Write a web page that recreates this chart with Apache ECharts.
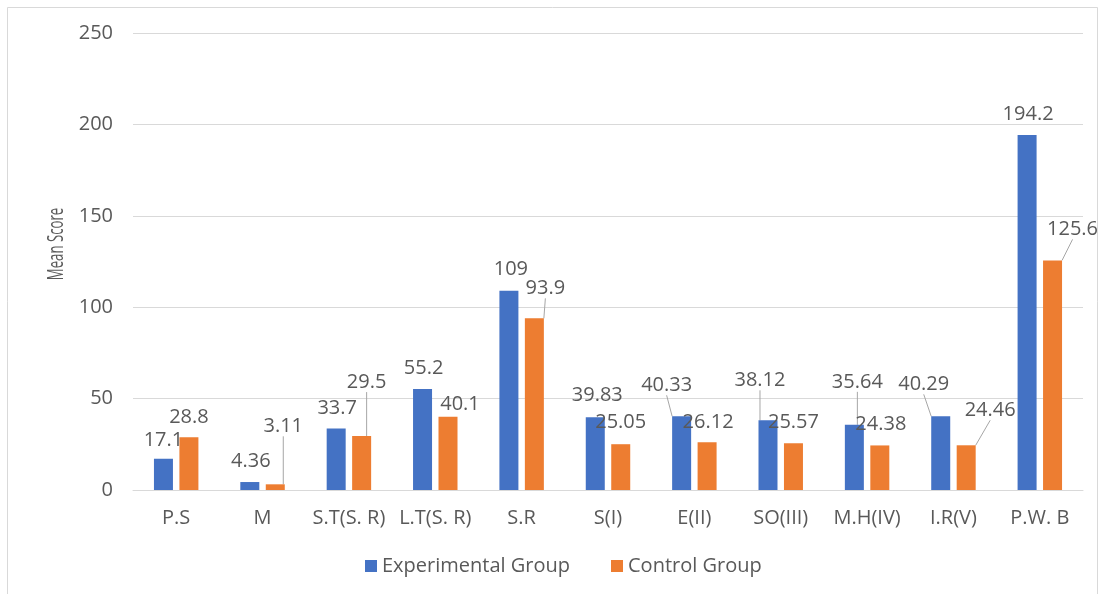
<!DOCTYPE html>
<html>
<head>
<meta charset="utf-8">
<script src="https://cdn.jsdelivr.net/npm/echarts@6/dist/echarts.min.js"></script>
<style>
  html, body { margin: 0; padding: 0; background: #ffffff; }
  #chart { width: 1106px; height: 594px; }
</style>
</head>
<body>
<div id="chart"></div>
<script>
// Sub-scale names along the x axis
const categories = ['P.S', 'M', 'S.T(S. R)', 'L.T(S. R)', 'S.R', 'S(I)', 'E(II)', 'SO(III)', 'M.H(IV)', 'I.R(V)', 'P.W. B'];

// Mean scores per group
const experimental = [17.1, 4.36, 33.7, 55.2, 109, 39.83, 40.33, 38.12, 35.64, 40.29, 194.2];
const control = [28.8, 3.11, 29.5, 40.1, 93.9, 25.05, 26.12, 25.57, 24.38, 24.46, 125.6];

// Value axis range and step
const yMin = 0;
const yMax = 250;
const yStep = 50;

const seriesNames = ['Experimental Group', 'Control Group'];

// Nudges for the value labels (pixels, relative to the default "top" spot)
const expLabelShift = [[0, -3], [1, -6], [1, -5], [1, -6], [2, -6], [2, -7], [-15, -16], [-8, -25], [3, -28], [-17, -17], [1, -6]];
const ctlLabelShift = [[0, -5], [8, -43], [5, -39], [12, 3], [11, -15], [0, -7], [1, -5], [0, -6], [1, -6], [24, -20], [20, -16]];

// Which labels get a leader line back to their bar
const expLeader = [false, false, false, false, false, false, true, true, true, true, false];
const ctlLeader = [false, true, true, false, true, false, false, false, false, true, true];

const FONT = '"Open Sans", "Liberation Sans", sans-serif';
const TEXT = '#595959';

function items(values, leaders) {
  return values.map((v, i) => ({ value: v, labelLine: { show: leaders[i] } }));
}

function barSeries(name, values, color, shift, leaders) {
  return {
    name: name,
    type: 'bar',
    barWidth: 19,
    barGap: '34%',
    itemStyle: { color: color },
    data: items(values, leaders),
    label: {
      show: true,
      position: 'top',
      distance: 5,
      color: TEXT,
      fontFamily: FONT,
      fontSize: 20
    },
    labelLine: {
      show: true,
      lineStyle: { color: '#a6a6a6', width: 1 }
    },
    labelLayout: function (p) {
      const s = shift[p.dataIndex];
      return { dx: s[0], dy: s[1] };
    }
  };
}

const chart = echarts.init(document.getElementById('chart'), null, { renderer: 'canvas' });

chart.setOption({
  backgroundColor: '#ffffff',
  animation: false,
  textStyle: { fontFamily: FONT },
  graphic: [
    {
      type: 'rect',
      silent: true,
      shape: { x: 7.5, y: 7.5, width: 1090, height: 620 },
      style: { fill: 'none', stroke: '#d9d9d9', lineWidth: 1 }
    },
    {
      // Value-axis title, set upright along the axis
      type: 'text',
      silent: true,
      x: 57,
      y: 244,
      rotation: Math.PI / 2,
      scaleX: 0.6,
      style: {
        text: 'Mean Score',
        fill: TEXT,
        font: '22px ' + FONT,
        textAlign: 'center',
        textVerticalAlign: 'middle'
      }
    }
  ],
  grid: { left: 133, right: 23, top: 33, bottom: 104, containLabel: false },
  legend: {
    data: seriesNames,
    left: 360,
    top: 551,
    icon: 'rect',
    itemWidth: 12,
    itemHeight: 12,
    itemGap: 41,
    textStyle: { color: TEXT, fontFamily: FONT, fontSize: 20 }
  },
  xAxis: {
    type: 'category',
    data: categories,
    axisTick: { show: false },
    axisLine: { lineStyle: { color: '#d9d9d9', width: 1 } },
    axisLabel: { color: TEXT, fontFamily: FONT, fontSize: 20, margin: 18, interval: 0 }
  },
  yAxis: {
    type: 'value',
    min: yMin,
    max: yMax,
    interval: yStep,
    axisLine: { show: false },
    axisTick: { show: false },
    splitLine: { lineStyle: { color: '#d9d9d9', width: 1 } },
    axisLabel: { color: TEXT, fontFamily: FONT, fontSize: 20, margin: 20 }
  },
  series: [
    barSeries(seriesNames[0], experimental, '#4472c4', expLabelShift, expLeader),
    barSeries(seriesNames[1], control, '#ed7d31', ctlLabelShift, ctlLeader)
  ]
});
</script>
</body>
</html>
